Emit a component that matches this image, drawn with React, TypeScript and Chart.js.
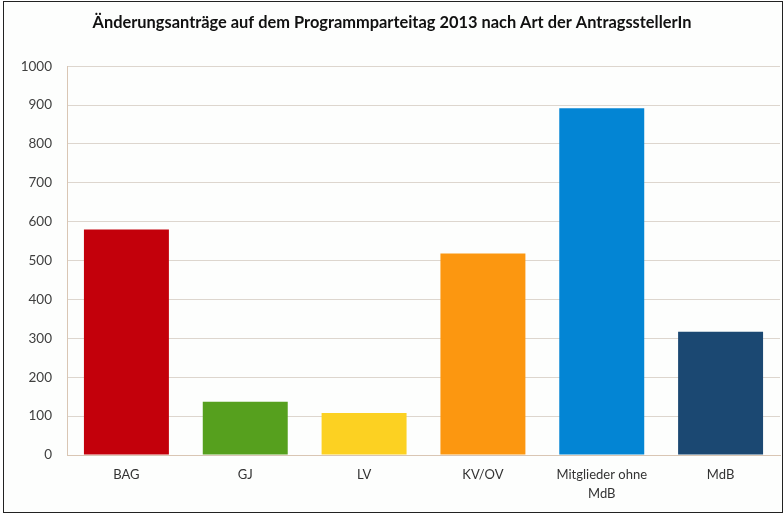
import React, { useEffect, useRef } from "react";
import { Chart, registerables } from "chart.js";

Chart.register(...registerables);

const categories: (string | string[])[] = ["BAG", "GJ", "LV", "KV/OV", ["Mitglieder ohne", "MdB"], "MdB"];
const values: number[] = [580, 137, 108, 518, 892, 317];
const barColors: string[] = ["#C3000B", "#56A01E", "#FCD122", "#FC9710", "#0385D4", "#1B4872"];
const yTicks: number[] = [0, 100, 200, 300, 400, 500, 600, 700, 800, 900, 1000];
const titleText = "Änderungsanträge auf dem Programmparteitag 2013 nach Art der AntragsstellerIn";

export default function App() {
  const ref = useRef<HTMLCanvasElement>(null);
  useEffect(() => {
    if (!ref.current) return;
    const chart = new Chart(ref.current, {
      type: "bar",
      data: {
        labels: categories,
        datasets: [
          {
            data: values,
            backgroundColor: barColors,
            borderWidth: 0,
            categoryPercentage: 1,
            barPercentage: 0.715,
          },
        ],
      },
      options: {
        responsive: false,
        animation: false,
        layout: { padding: { left: 0, right: 1, top: 0, bottom: 0 } },
        plugins: {
          legend: { display: false },
          tooltip: { enabled: false },
          title: {
            display: true,
            text: titleText,
            color: "#111",
            font: { family: "Lato", size: 16.4, weight: "bold" },
            padding: { top: 11, bottom: 33.5 },
          },
        },
        scales: {
          x: {
            afterFit: (axis: any) => {
              axis.height = 56;
            },
            grid: { display: false, drawTicks: false },
            border: { color: "#D9C6B4", width: 1 },
            ticks: {
              color: "#333",
              font: { family: "Lato", size: 13, lineHeight: 1.5 },
              padding: 10,
              maxRotation: 0,
              autoSkip: false,
            },
          },
          y: {
            min: 0,
            max: 1000,
            afterBuildTicks: (axis: any) => {
              axis.ticks = yTicks.map((v) => ({ value: v }));
            },
            afterFit: (axis: any) => {
              axis.width = 63;
            },
            grid: { color: "#DDD6CE", drawTicks: false, lineWidth: 1 },
            border: { color: "#D9C6B4", width: 1 },
            ticks: {
              color: "#404040",
              font: { family: "Lato", size: 13.5 },
              padding: 15,
              callback: (v: any) => String(v),
            },
          },
        },
      },
    });
    return () => chart.destroy();
  }, []);

  return (
    <div style={{ position: "absolute", left: 0, top: 0, width: 784, height: 514, background: "#fff" }}>
      <div
        style={{
          position: "absolute",
          left: 3,
          top: 1,
          width: 780,
          height: 512,
          border: "1.5px solid #222",
          boxSizing: "border-box",
          background: "#FDFEFD",
        }}
      >
        <canvas ref={ref} width={777} height={509} style={{ display: "block" }} />
      </div>
    </div>
  );
}
